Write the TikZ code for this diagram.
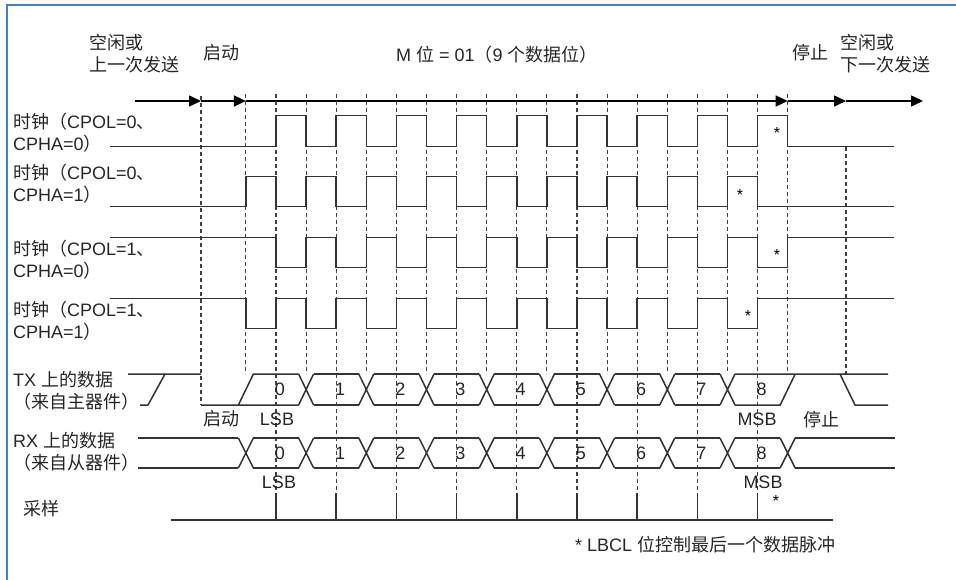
\documentclass[tikz,border=0pt]{standalone}
\usepackage{fontspec}
\setmainfont{Liberation Sans}
\newfontfamily\cjk{Noto Sans CJK SC}
\newcommand{\zh}[1]{{\cjk #1}}
\usetikzlibrary{arrows.meta}
\definecolor{frameblue}{RGB}{68,128,196}

\begin{document}
\begin{tikzpicture}[x=1pt, y=-1pt,
  lbl/.style={font=\fontsize{18}{22}\selectfont, text=black!85, align=left, anchor=west, inner sep=0pt},
  num/.style={font=\fontsize{18}{22}\selectfont, text=black!85, inner sep=0pt},
  star/.style={font=\fontsize{16}{16}\selectfont, inner sep=0pt},
  wave/.style={line width=1.5pt, black!80},
  guide/.style={line width=1.1pt, black!75, dash pattern=on 4pt off 3pt},
  arr/.style={line width=1.5pt, -{Triangle[length=12pt, width=11pt]}}]
\useasboundingbox (0,0) rectangle (956,580);
\draw[line width=2.5pt, frameblue] (7,580) -- (7,5) -- (956,5);

% top labels
\node[lbl] (idle1) at (89,54) {\zh{空闲或}\\\zh{上一次发送}};
\node[lbl] (start1) at (203,53) {\zh{启动}};
\node[lbl] (mbits) at (396,55) {M \zh{位} = 01\zh{（}9 \zh{个数据位）}};
\node[lbl] (stop1) at (792,53) {\zh{停止}};
\node[lbl] (idle2) at (840,54) {\zh{空闲或}\\\zh{下一次发送}};

% time axis
\coordinate (t0) at (135,101);
\coordinate (t1) at (201,101);
\coordinate (t2) at (245.9,101);
\coordinate (t3) at (787.7,101);
\coordinate (t4) at (846,101);
\coordinate (t5) at (923,101);
\foreach \a/\b in {t0/t1, t1/t2, t2/t3, t3/t4, t4/t5}
  \draw[arr] (\a) -- (\b);

% guides
\draw[guide] (201,96) -- (201,405);
\draw[guide] (245.9,94) -- (245.9,374);
\draw[guide] (846,146.7) -- (846,374);
\foreach \n in {1,3,...,17}
  \draw[guide] ({276+30.1*\n},94) -- ({276+30.1*\n},374);
\foreach \n in {0,2,...,16} {
  \draw[guide] ({276+30.1*\n},94) -- ({276+30.1*\n},493);
  \draw[wave] ({276+30.1*\n},493) -- ({276+30.1*\n},520);
}

% clocks
\node[lbl] (ck1) at (13,132.5) {\zh{时钟（}CPOL=0\zh{、}\\CPHA=0\zh{）}};
\node[lbl] (ck2) at (13,184) {\zh{时钟（}CPOL=0\zh{、}\\CPHA=1\zh{）}};
\node[lbl] (ck3) at (13,260) {\zh{时钟（}CPOL=1\zh{、}\\CPHA=0\zh{）}};
\node[lbl] (ck4) at (13,321) {\zh{时钟（}CPOL=1\zh{、}\\CPHA=1\zh{）}};
\foreach \idle/\act/\st in {146.7/115.7/276, 206.7/176.7/245.9, 237.3/267.3/276, 298.3/328.3/245.9}
  \draw[wave] (110,\idle) foreach \k in {0,...,8} {
    -- ({\st+60.2*\k},\idle) -- ({\st+60.2*\k},\act)
    -- ({\st+30.1+60.2*\k},\act) -- ({\st+30.1+60.2*\k},\idle) } -- (894,\idle);
\node[star] (s1) at (777,133) {*};
\node[star] (s2) at (740,195) {*};
\node[star] (s3) at (777,255) {*};
\node[star] (s4) at (748,316) {*};

% TX data
\node[lbl] (txl) at (13,391) {TX \zh{上的数据}\\\zh{（来自主器件）}};
\draw[wave] (128,374) -- (201,374) (140,405) -- (148,405) -- (165,374);
\draw[wave] (201,405) -- (298.6,405) (238.4,405) -- (253.4,374) -- (298.6,374);
\foreach \i in {1,...,8}
  \draw[wave] ({245.9+60.2*\i-7.5},374) -- ({245.9+60.2*\i+7.5},405)
              ({245.9+60.2*\i-7.5},405) -- ({245.9+60.2*\i+7.5},374);
\foreach \i in {1,...,7}
  \draw[wave] ({245.9+60.2*\i+7.5},374) -- ({245.9+60.2*\i+52.7},374)
              ({245.9+60.2*\i+7.5},405) -- ({245.9+60.2*\i+52.7},405);
\draw[wave] (735,405) -- (780.2,405) -- (795.2,374) (735,374) -- (888,374);
\draw[wave] (840,374) -- (855,405) -- (888,405);
\foreach \i in {0,...,8}
  \node[num] (tx\i) at ({279.9+60.2*\i},389.5) {\i};
\node[lbl] (txs) at (203,419) {\zh{启动}};
\node[num] (lsb1) at (277,419) {LSB};
\node[num] (msb1) at (757,419) {MSB};
\node[lbl] (txe) at (803,420) {\zh{停止}};

% RX data
\node[lbl] (rxl) at (13,452) {RX \zh{上的数据}\\\zh{（来自从器件）}};
\draw[wave] (138,438) -- (238.4,438) (138,468) -- (238.4,468);
\foreach \i in {0,...,9}
  \draw[wave] ({245.9+60.2*\i-7.5},438) -- ({245.9+60.2*\i+7.5},468)
              ({245.9+60.2*\i-7.5},468) -- ({245.9+60.2*\i+7.5},438);
\foreach \i in {0,...,8}
  \draw[wave] ({245.9+60.2*\i+7.5},438) -- ({245.9+60.2*\i+52.7},438)
              ({245.9+60.2*\i+7.5},468) -- ({245.9+60.2*\i+52.7},468);
\draw[wave] (795.2,438) -- (895,438) (795.2,468) -- (895,468);
\foreach \i in {0,...,8}
  \node[num] (rx\i) at ({279.9+60.2*\i},453) {\i};
\node[num] (lsb2) at (279,482) {LSB};
\node[num] (msb2) at (763,482) {MSB};
\node[star] (s5) at (776,501) {*};

% sampling
\node[lbl] (smp) at (23,509) {\zh{采样}};
\draw[wave] (171,520) -- (833,520);
\node[lbl] (note) at (575,545) {* LBCL \zh{位控制最后一个数据脉冲}};
\end{tikzpicture}
\end{document}
